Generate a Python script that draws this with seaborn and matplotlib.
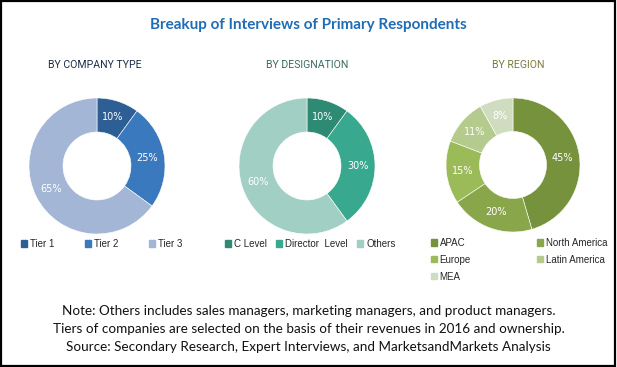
import matplotlib as mpl
import matplotlib.pyplot as plt
from matplotlib.patches import Patch, Rectangle
import seaborn as sns

sns.set_theme(style="white")
plt.rcParams['font.family'] = ['DejaVu Sans']

# Data
company_labels = ['Tier 1', 'Tier 2', 'Tier 3']
company_values = [10, 25, 65]
company_colors = ['#2d5f95', '#3a79bd', '#a3b6d6']

designation_labels = ['C Level', 'Director  Level', 'Others']
designation_values = [10, 30, 60]
designation_colors = ['#2e8a73', '#38a98f', '#a2cfc3']

region_labels = ['APAC', 'North America', 'Europe', 'Latin America', 'MEA']
region_values = [45, 20, 15, 11, 8]
region_colors = ['#76923c', '#8aa64b', '#9bbb59', '#b4cb8d', '#d0dcbf']

W, H = 617, 367
fig = plt.figure(figsize=(W / 100, H / 100), dpi=100)
fig.patch.set_facecolor('white')

# Border
fig.patches.append(Rectangle((0.002, 0.003), 0.995, 0.993, transform=fig.transFigure,
                             fill=False, edgecolor='black', linewidth=1.6))

fig.text(0.5, 1 - 25 / H, 'Breakup of Interviews of Primary Respondents', ha='center', va='center',
         fontsize=11, fontweight='bold', color='#1f6db5', family='Lato')


def donut(cx, cy, r, values, colors, title, tx, title_color):
    ax = fig.add_axes([(cx - r) / W, 1 - (cy + r) / H, 2 * r / W, 2 * r / H])
    wedges, texts, autotexts = ax.pie(values, colors=colors, startangle=90, counterclock=False,
                                      wedgeprops=dict(width=0.5, edgecolor='white', linewidth=0.4),
                                      autopct=lambda p: f'{p * sum(values) / 100:.0f}%', pctdistance=0.75)
    for t in autotexts:
        t.set_color('white')
        t.set_fontsize(7)
    ax.set_xlim(-1, 1)
    ax.set_ylim(-1, 1)
    ax.set_aspect('equal')
    ax.axis('off')
    fig.text(tx / W, 1 - 65 / H, title, ha='center', va='center', fontsize=7.6,
             color=title_color, family='Roboto')
    return wedges


donut(97, 166, 68, company_values, company_colors, 'BY COMPANY TYPE', 95, '#1e2d4a')
donut(307, 166, 68, designation_values, designation_colors, 'BY DESIGNATION', 307, '#3b6b64')
donut(513, 165, 67, region_values, region_colors, 'BY REGION', 518, '#7b7a3c')

leg_kw = dict(frameon=False, handlelength=0.6, handleheight=0.6, handletextpad=0.3,
              prop={'family': 'Liberation Sans', 'size': 7}, borderaxespad=0, borderpad=0)

fig.legend(handles=[Patch(color=c, label=l) for c, l in zip(company_colors, company_labels)],
           loc='center left', bbox_to_anchor=(21 / W, 1 - 244 / H), ncol=3, columnspacing=3.2, **leg_kw)
fig.legend(handles=[Patch(color=c, label=l) for c, l in zip(designation_colors, designation_labels)],
           loc='center left', bbox_to_anchor=(225 / W, 1 - 244 / H), ncol=3, columnspacing=1.0, **leg_kw)

order = [0, 2, 4, 1, 3]
fig.legend(handles=[Patch(color=region_colors[i], label=region_labels[i]) for i in order],
           loc='upper left', bbox_to_anchor=(431 / W, 1 - 238 / H), ncol=2, columnspacing=6.8,
           labelspacing=0.7, **leg_kw)

notes = ['Note: Others includes sales managers, marketing managers, and product managers.',
         'Tiers of companies are selected on the basis of their revenues in 2016 and ownership.',
         'Source: Secondary Research, Expert Interviews, and MarketsandMarkets Analysis']
for i, line in enumerate(notes):
    fig.text(0.5, 1 - (311 + 18 * i) / H, line, ha='center', va='center', fontsize=9.7,
             color='#111111', family='Lato')

fig.savefig('out.png', dpi=100)
